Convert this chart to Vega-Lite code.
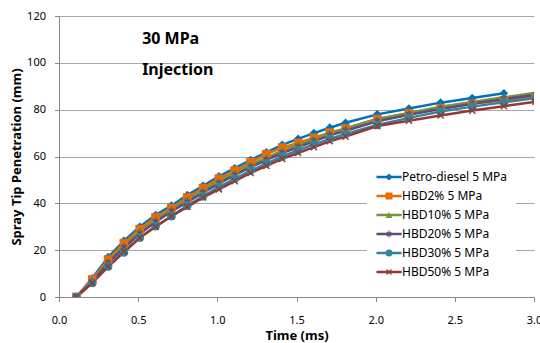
{
  "$schema": "https://vega.github.io/schema/vega-lite/v6.json",
  "width": 475,
  "height": 281,
  "autosize": {"type": "none"},
  "padding": {"left": 59, "top": 16, "right": 6, "bottom": 46},
  "background": "white",
  "config": {
    "view": {"stroke": null},
    "font": "Noto Sans",
    "axis": {
      "labelFont": "Noto Sans",
      "labelFontSize": 11,
      "labelColor": "#000000",
      "titleFont": "Noto Sans",
      "titleFontSize": 13,
      "titleFontWeight": "bold",
      "titleColor": "#000000",
      "domainColor": "#868686",
      "tickColor": "#868686",
      "tickSize": 4.5,
      "gridColor": "#A6A6A6",
      "gridWidth": 1
    },
    "legend": {
      "labelFont": "Noto Sans",
      "labelFontSize": 12,
      "labelColor": "#000000"
    }
  },
  "datasets": {
    "curves": [
      {"series": "Petro-diesel 5 MPa", "t": 0.11, "mm": 0},
      {"series": "Petro-diesel 5 MPa", "t": 0.21, "mm": 8},
      {"series": "Petro-diesel 5 MPa", "t": 0.31, "mm": 17},
      {"series": "Petro-diesel 5 MPa", "t": 0.41, "mm": 24},
      {"series": "Petro-diesel 5 MPa", "t": 0.51, "mm": 30},
      {"series": "Petro-diesel 5 MPa", "t": 0.61, "mm": 35},
      {"series": "Petro-diesel 5 MPa", "t": 0.71, "mm": 39},
      {"series": "Petro-diesel 5 MPa", "t": 0.81, "mm": 43.5},
      {"series": "Petro-diesel 5 MPa", "t": 0.91, "mm": 47.5},
      {"series": "Petro-diesel 5 MPa", "t": 1.01, "mm": 51.5},
      {"series": "Petro-diesel 5 MPa", "t": 1.11, "mm": 55},
      {"series": "Petro-diesel 5 MPa", "t": 1.21, "mm": 58.5},
      {"series": "Petro-diesel 5 MPa", "t": 1.31, "mm": 61.8},
      {"series": "Petro-diesel 5 MPa", "t": 1.41, "mm": 65},
      {"series": "Petro-diesel 5 MPa", "t": 1.51, "mm": 67.5},
      {"series": "Petro-diesel 5 MPa", "t": 1.61, "mm": 70},
      {"series": "Petro-diesel 5 MPa", "t": 1.71, "mm": 72.3},
      {"series": "Petro-diesel 5 MPa", "t": 1.81, "mm": 74.4},
      {"series": "Petro-diesel 5 MPa", "t": 2.01, "mm": 78},
      {"series": "Petro-diesel 5 MPa", "t": 2.21, "mm": 80.5},
      {"series": "Petro-diesel 5 MPa", "t": 2.41, "mm": 83},
      {"series": "Petro-diesel 5 MPa", "t": 2.61, "mm": 85},
      {"series": "Petro-diesel 5 MPa", "t": 2.81, "mm": 87},

      {"series": "HBD2% 5 MPa", "t": 0.11, "mm": 0},
      {"series": "HBD2% 5 MPa", "t": 0.21, "mm": 7.5},
      {"series": "HBD2% 5 MPa", "t": 0.31, "mm": 16},
      {"series": "HBD2% 5 MPa", "t": 0.41, "mm": 23},
      {"series": "HBD2% 5 MPa", "t": 0.51, "mm": 29},
      {"series": "HBD2% 5 MPa", "t": 0.61, "mm": 34},
      {"series": "HBD2% 5 MPa", "t": 0.71, "mm": 38},
      {"series": "HBD2% 5 MPa", "t": 0.81, "mm": 42.5},
      {"series": "HBD2% 5 MPa", "t": 0.91, "mm": 46.5},
      {"series": "HBD2% 5 MPa", "t": 1.01, "mm": 50.5},
      {"series": "HBD2% 5 MPa", "t": 1.11, "mm": 54},
      {"series": "HBD2% 5 MPa", "t": 1.21, "mm": 57.5},
      {"series": "HBD2% 5 MPa", "t": 1.31, "mm": 61},
      {"series": "HBD2% 5 MPa", "t": 1.41, "mm": 63.8},
      {"series": "HBD2% 5 MPa", "t": 1.51, "mm": 65.8},
      {"series": "HBD2% 5 MPa", "t": 1.61, "mm": 68},
      {"series": "HBD2% 5 MPa", "t": 1.71, "mm": 70.2},
      {"series": "HBD2% 5 MPa", "t": 1.81, "mm": 72},
      {"series": "HBD2% 5 MPa", "t": 2.01, "mm": 76},
      {"series": "HBD2% 5 MPa", "t": 2.21, "mm": 78.5},
      {"series": "HBD2% 5 MPa", "t": 2.41, "mm": 80.5},
      {"series": "HBD2% 5 MPa", "t": 2.61, "mm": 82.5},
      {"series": "HBD2% 5 MPa", "t": 2.81, "mm": 84},
      {"series": "HBD2% 5 MPa", "t": 3.01, "mm": 85.7},

      {"series": "HBD10% 5 MPa", "t": 0.11, "mm": 0},
      {"series": "HBD10% 5 MPa", "t": 0.21, "mm": 7},
      {"series": "HBD10% 5 MPa", "t": 0.31, "mm": 15},
      {"series": "HBD10% 5 MPa", "t": 0.41, "mm": 22},
      {"series": "HBD10% 5 MPa", "t": 0.51, "mm": 28},
      {"series": "HBD10% 5 MPa", "t": 0.61, "mm": 33},
      {"series": "HBD10% 5 MPa", "t": 0.71, "mm": 37.5},
      {"series": "HBD10% 5 MPa", "t": 0.81, "mm": 41.5},
      {"series": "HBD10% 5 MPa", "t": 0.91, "mm": 45.5},
      {"series": "HBD10% 5 MPa", "t": 1.01, "mm": 49.5},
      {"series": "HBD10% 5 MPa", "t": 1.11, "mm": 53},
      {"series": "HBD10% 5 MPa", "t": 1.21, "mm": 56.5},
      {"series": "HBD10% 5 MPa", "t": 1.31, "mm": 59.5},
      {"series": "HBD10% 5 MPa", "t": 1.41, "mm": 62.5},
      {"series": "HBD10% 5 MPa", "t": 1.51, "mm": 65},
      {"series": "HBD10% 5 MPa", "t": 1.61, "mm": 67.5},
      {"series": "HBD10% 5 MPa", "t": 1.71, "mm": 70},
      {"series": "HBD10% 5 MPa", "t": 1.81, "mm": 72},
      {"series": "HBD10% 5 MPa", "t": 2.01, "mm": 76},
      {"series": "HBD10% 5 MPa", "t": 2.21, "mm": 78.6},
      {"series": "HBD10% 5 MPa", "t": 2.41, "mm": 81.3},
      {"series": "HBD10% 5 MPa", "t": 2.61, "mm": 83.3},
      {"series": "HBD10% 5 MPa", "t": 2.81, "mm": 85.3},
      {"series": "HBD10% 5 MPa", "t": 3.01, "mm": 87.2},

      {"series": "HBD20% 5 MPa", "t": 0.11, "mm": 0},
      {"series": "HBD20% 5 MPa", "t": 0.21, "mm": 6.5},
      {"series": "HBD20% 5 MPa", "t": 0.31, "mm": 14.5},
      {"series": "HBD20% 5 MPa", "t": 0.41, "mm": 21},
      {"series": "HBD20% 5 MPa", "t": 0.51, "mm": 27},
      {"series": "HBD20% 5 MPa", "t": 0.61, "mm": 32},
      {"series": "HBD20% 5 MPa", "t": 0.71, "mm": 36.5},
      {"series": "HBD20% 5 MPa", "t": 0.81, "mm": 40.5},
      {"series": "HBD20% 5 MPa", "t": 0.91, "mm": 44.5},
      {"series": "HBD20% 5 MPa", "t": 1.01, "mm": 48.5},
      {"series": "HBD20% 5 MPa", "t": 1.11, "mm": 52},
      {"series": "HBD20% 5 MPa", "t": 1.21, "mm": 55.5},
      {"series": "HBD20% 5 MPa", "t": 1.31, "mm": 58.5},
      {"series": "HBD20% 5 MPa", "t": 1.41, "mm": 61.5},
      {"series": "HBD20% 5 MPa", "t": 1.51, "mm": 64},
      {"series": "HBD20% 5 MPa", "t": 1.61, "mm": 66.5},
      {"series": "HBD20% 5 MPa", "t": 1.71, "mm": 69},
      {"series": "HBD20% 5 MPa", "t": 1.81, "mm": 71},
      {"series": "HBD20% 5 MPa", "t": 2.01, "mm": 75},
      {"series": "HBD20% 5 MPa", "t": 2.21, "mm": 77.8},
      {"series": "HBD20% 5 MPa", "t": 2.41, "mm": 80.3},
      {"series": "HBD20% 5 MPa", "t": 2.61, "mm": 82.5},
      {"series": "HBD20% 5 MPa", "t": 2.81, "mm": 84.5},
      {"series": "HBD20% 5 MPa", "t": 3.01, "mm": 86.3},

      {"series": "HBD30% 5 MPa", "t": 0.11, "mm": 0},
      {"series": "HBD30% 5 MPa", "t": 0.21, "mm": 6},
      {"series": "HBD30% 5 MPa", "t": 0.31, "mm": 13},
      {"series": "HBD30% 5 MPa", "t": 0.41, "mm": 19},
      {"series": "HBD30% 5 MPa", "t": 0.51, "mm": 25.3},
      {"series": "HBD30% 5 MPa", "t": 0.61, "mm": 30.2},
      {"series": "HBD30% 5 MPa", "t": 0.71, "mm": 34.5},
      {"series": "HBD30% 5 MPa", "t": 0.81, "mm": 39},
      {"series": "HBD30% 5 MPa", "t": 0.91, "mm": 43},
      {"series": "HBD30% 5 MPa", "t": 1.01, "mm": 47},
      {"series": "HBD30% 5 MPa", "t": 1.11, "mm": 50.5},
      {"series": "HBD30% 5 MPa", "t": 1.21, "mm": 54},
      {"series": "HBD30% 5 MPa", "t": 1.31, "mm": 57},
      {"series": "HBD30% 5 MPa", "t": 1.41, "mm": 60},
      {"series": "HBD30% 5 MPa", "t": 1.51, "mm": 62.7},
      {"series": "HBD30% 5 MPa", "t": 1.61, "mm": 65.2},
      {"series": "HBD30% 5 MPa", "t": 1.71, "mm": 67.5},
      {"series": "HBD30% 5 MPa", "t": 1.81, "mm": 69.6},
      {"series": "HBD30% 5 MPa", "t": 2.01, "mm": 73.5},
      {"series": "HBD30% 5 MPa", "t": 2.21, "mm": 76.5},
      {"series": "HBD30% 5 MPa", "t": 2.41, "mm": 79.2},
      {"series": "HBD30% 5 MPa", "t": 2.61, "mm": 81.3},
      {"series": "HBD30% 5 MPa", "t": 2.81, "mm": 83.2},
      {"series": "HBD30% 5 MPa", "t": 3.01, "mm": 85},

      {"series": "HBD50% 5 MPa", "t": 0.11, "mm": 0},
      {"series": "HBD50% 5 MPa", "t": 0.21, "mm": 6},
      {"series": "HBD50% 5 MPa", "t": 0.31, "mm": 13},
      {"series": "HBD50% 5 MPa", "t": 0.41, "mm": 19.5},
      {"series": "HBD50% 5 MPa", "t": 0.51, "mm": 25.3},
      {"series": "HBD50% 5 MPa", "t": 0.61, "mm": 30},
      {"series": "HBD50% 5 MPa", "t": 0.71, "mm": 34.5},
      {"series": "HBD50% 5 MPa", "t": 0.81, "mm": 38.5},
      {"series": "HBD50% 5 MPa", "t": 0.91, "mm": 42.5},
      {"series": "HBD50% 5 MPa", "t": 1.01, "mm": 46},
      {"series": "HBD50% 5 MPa", "t": 1.11, "mm": 49.5},
      {"series": "HBD50% 5 MPa", "t": 1.21, "mm": 53},
      {"series": "HBD50% 5 MPa", "t": 1.31, "mm": 56},
      {"series": "HBD50% 5 MPa", "t": 1.41, "mm": 59},
      {"series": "HBD50% 5 MPa", "t": 1.51, "mm": 61.5},
      {"series": "HBD50% 5 MPa", "t": 1.61, "mm": 64},
      {"series": "HBD50% 5 MPa", "t": 1.71, "mm": 66.5},
      {"series": "HBD50% 5 MPa", "t": 1.81, "mm": 68.5},
      {"series": "HBD50% 5 MPa", "t": 2.01, "mm": 73},
      {"series": "HBD50% 5 MPa", "t": 2.21, "mm": 75.3},
      {"series": "HBD50% 5 MPa", "t": 2.41, "mm": 77.5},
      {"series": "HBD50% 5 MPa", "t": 2.61, "mm": 79.6},
      {"series": "HBD50% 5 MPa", "t": 2.81, "mm": 81.5},
      {"series": "HBD50% 5 MPa", "t": 3.01, "mm": 83.4}
    ],
    "notes": [
      {"t": 0.525, "mm": 110, "label": "30 MPa"},
      {"t": 0.525, "mm": 96.8, "label": "Injection"}
    ]
  },
  "layer": [
    {
      "data": {"name": "curves"},
      "mark": {"type": "line", "strokeWidth": 2.5, "clip": true},
      "encoding": {
        "x": {
          "field": "t", "type": "quantitative",
          "scale": {"domain": [0, 3], "nice": false, "zero": false},
          "axis": {
            "title": "Time (ms)",
            "values": [0, 0.5, 1, 1.5, 2, 2.5, 3],
            "format": ".1f",
            "grid": false,
            "labelPadding": 13,
            "titlePadding": 4,
            "labelFlush": false
          }
        },
        "y": {
          "field": "mm", "type": "quantitative",
          "scale": {"domain": [0, 120], "nice": false},
          "axis": {
            "title": "Spray Tip Penetration (mm)",
            "values": [0, 20, 40, 60, 80, 100, 120],
            "grid": true,
            "labelPadding": 9,
            "titlePadding": 3
          }
        },
        "stroke": {
          "field": "series", "type": "nominal",
          "sort": ["Petro-diesel 5 MPa", "HBD2% 5 MPa", "HBD10% 5 MPa", "HBD20% 5 MPa", "HBD30% 5 MPa", "HBD50% 5 MPa"],
          "scale": {
            "range": ["#0070C0", "#E46C0A", "#77933C", "#604A7B", "#31859C", "#953735"]
          },
          "legend": {
            "title": null,
            "orient": "none",
            "legendX": 308,
            "legendY": 147,
            "padding": 8,
            "fillColor": "white",
            "symbolType": "M-1.3,0L5.9,0",
            "symbolSize": 49,
            "symbolStrokeWidth": 2.5,
            "labelOffset": 15,
            "rowPadding": 7,
            "zindex": 0
          }
        }
      }
    },
    {
      "data": {"name": "curves"},
      "mark": {"type": "point", "filled": true, "size": 75, "opacity": 1, "clip": true},
      "encoding": {
        "x": {"field": "t", "type": "quantitative"},
        "y": {"field": "mm", "type": "quantitative"},
        "color": {
          "field": "series", "type": "nominal",
          "scale": {
            "domain": ["Petro-diesel 5 MPa", "HBD2% 5 MPa", "HBD10% 5 MPa", "HBD20% 5 MPa", "HBD30% 5 MPa", "HBD50% 5 MPa"],
            "range": ["#0070C0", "#E46C0A", "#77933C", "#604A7B", "#31859C", "#953735"]
          },
          "legend": {
            "title": null,
            "orient": "none",
            "legendX": 316,
            "legendY": 147,
            "padding": 8,
            "symbolSize": 49,
            "symbolStrokeWidth": 0,
            "labelOffset": 15,
            "rowPadding": 7,
            "labelOpacity": 0,
            "zindex": 1
          }
        },
        "shape": {
          "field": "series", "type": "nominal",
          "scale": {
            "domain": ["Petro-diesel 5 MPa", "HBD2% 5 MPa", "HBD10% 5 MPa", "HBD20% 5 MPa", "HBD30% 5 MPa", "HBD50% 5 MPa"],
            "range": ["diamond", "square", "triangle-up", "M0.74,0.5L0.5,0.74L-0.74,-0.5L-0.5,-0.74ZM-0.5,0.74L-0.74,0.5L0.5,-0.74L0.74,-0.5ZM0.15,-1L0.15,1L-0.15,1L-0.15,-1Z", "circle", "M0.83,0.59L0.59,0.83L-0.83,-0.59L-0.59,-0.83ZM-0.59,0.83L-0.83,0.59L0.59,-0.83L0.83,-0.59Z"]
          },
          "legend": {
            "title": null,
            "orient": "none",
            "legendX": 316,
            "legendY": 147,
            "padding": 8,
            "symbolSize": 49,
            "symbolStrokeWidth": 0,
            "labelOffset": 15,
            "rowPadding": 7,
            "labelOpacity": 0,
            "zindex": 1
          }
        }
      }
    },
    {
      "data": {"name": "notes"},
      "mark": {"type": "text", "align": "left", "baseline": "middle", "fontSize": 16, "fontWeight": "bold", "font": "Noto Sans", "color": "#000000"},
      "encoding": {
        "x": {"field": "t", "type": "quantitative"},
        "y": {"field": "mm", "type": "quantitative"},
        "text": {"field": "label", "type": "nominal"}
      }
    }
  ]
}
